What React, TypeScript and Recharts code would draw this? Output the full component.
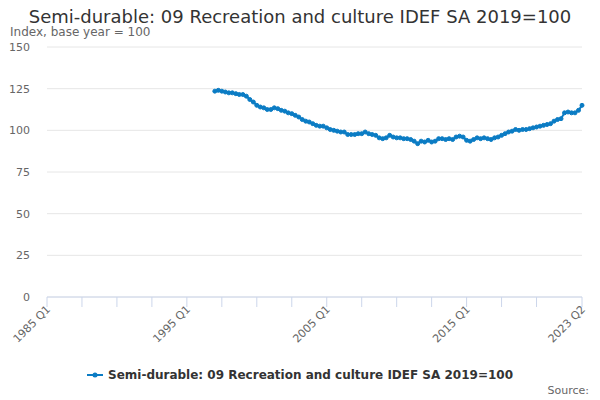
import { LineChart, Line, XAxis, YAxis, CartesianGrid } from 'recharts'

const TITLE = 'Semi-durable: 09 Recreation and culture IDEF SA 2019=100'
const SUBTITLE = 'Index, base year = 100'
const SERIES_NAME = 'Semi-durable: 09 Recreation and culture IDEF SA 2019=100'
const COLOR = '#0b7cc4'

// first quarter of the series, then one value per quarter
const firstQuarter = '1997 Q1'
const values = [
  123.5, 124, 123.5, 123, 122.5, 122.5, 122, 121.5,
  121.5, 120.5, 118.5, 117, 115, 114, 113.5, 112.5,
  112.5, 113.5, 113, 112, 111.5, 110.5, 110, 109,
  108, 106.5, 105.5, 105, 104, 103, 102.5, 102.5,
  101.5, 100.5, 100, 99.5, 99, 99, 97.5, 97.5,
  97.5, 98, 98, 99, 98, 97.5, 97, 95.5,
  95, 95.5, 97, 96, 95.5, 95.5, 95, 95,
  94.5, 93.5, 92, 93.5, 93, 94, 93, 93.5,
  95, 95, 94.5, 95, 94.5, 96, 96.5, 96,
  94, 93.5, 94.5, 95.5, 95, 95.5, 95, 94.5,
  95.5, 96, 97, 98, 99, 99.5, 100.5, 100,
  100.5, 100.5, 101, 101.5, 102, 102.5, 103, 103.5,
  104, 105.5, 106.5, 107, 110.5, 111, 110.5, 110.5,
  112, 115,
]

const axisStart = '1985 Q1'
const axisEnd = '2023 Q2'
const axisTicks = [
  '1985 Q1', '1987 Q3', '1990 Q1', '1992 Q3', '1995 Q1', '1997 Q3', '2000 Q1', '2002 Q3',
  '2005 Q1', '2007 Q3', '2010 Q1', '2012 Q3', '2015 Q1', '2017 Q3', '2020 Q1', '2023 Q2',
]
const tickLabels = ['1985 Q1', '1995 Q1', '2005 Q1', '2015 Q1', '2023 Q2']
const yTicks = [0, 25, 50, 75, 100, 125, 150]

// quarters since 1985 Q1
const toIndex = (label: string) => {
  const [y, q] = label.split(' Q')
  return (Number(y) - 1985) * 4 + Number(q) - 1
}
const toLabel = (i: number) => `${1985 + Math.floor(i / 4)} Q${(i % 4) + 1}`

const start = toIndex(firstQuarter)
const data = values.map((value, i) => ({ q: start + i, label: toLabel(start + i), value }))

const font = '"DejaVu Sans", Verdana, sans-serif'

const XTick = (props: any) => {
  const { x, y, payload } = props
  const label = toLabel(payload.value)
  if (!tickLabels.includes(label)) return null
  return (
    <g transform={`translate(${x + 4},${y + 1})`}>
      <text textAnchor="end" transform="rotate(-45)" fill="#666" fontSize={11} fontFamily={font}>
        {label}
      </text>
    </g>
  )
}

const YTick = (props: any) => {
  const { y, payload } = props
  return (
    <text x={30} y={y} dy={4} textAnchor="end" fill="#666" fontSize={11} fontFamily={font}>
      {payload.value}
    </text>
  )
}

export default function App() {
  return (
    <div style={{ position: 'absolute', left: 0, top: 0, width: 600, height: 400, background: '#fff', fontFamily: font }}>
      <div style={{ position: 'absolute', top: 8, left: 0, width: 600, textAlign: 'center', fontSize: 18, lineHeight: '18px', color: '#333' }}>
        {TITLE}
      </div>
      <div style={{ position: 'absolute', top: 26, left: 10, fontSize: 12, lineHeight: '12px', color: '#666' }}>
        {SUBTITLE}
      </div>
      <LineChart width={600} height={400} data={data} margin={{ top: 47, right: 18, bottom: 73, left: 0 }}>
        <CartesianGrid vertical={false} stroke="#e6e6e6" />
        <XAxis
          type="number"
          dataKey="q"
          height={30}
          domain={[toIndex(axisStart), toIndex(axisEnd)]}
          ticks={axisTicks.map(toIndex)}
          interval={0}
          stroke="#ccd6eb"
          tickSize={10}
          tick={<XTick />}
        />
        <YAxis
          width={47}
          domain={[0, 150]}
          ticks={yTicks}
          axisLine={false}
          tickLine={false}
          tick={<YTick />}
        />
        <Line
          type="linear"
          dataKey="value"
          name={SERIES_NAME}
          stroke={COLOR}
          strokeWidth={2}
          dot={{ r: 2, fill: COLOR, stroke: COLOR, strokeWidth: 1 }}
          isAnimationActive={false}
        />
      </LineChart>
      <div style={{ position: 'absolute', top: 368, left: 0, width: 600, display: 'flex', justifyContent: 'center', alignItems: 'center' }}>
        <svg width={16} height={12} style={{ marginRight: 5 }}>
          <line x1={0} y1={6} x2={16} y2={6} stroke={COLOR} strokeWidth={2} />
          <circle cx={8} cy={6} r={2.5} fill={COLOR} />
        </svg>
        <span style={{ fontSize: 12, fontWeight: 'bold', color: '#333' }}>{SERIES_NAME}</span>
      </div>
      <div style={{ position: 'absolute', top: 384, right: 11, fontSize: 11, color: '#666' }}>Source:</div>
    </div>
  )
}
